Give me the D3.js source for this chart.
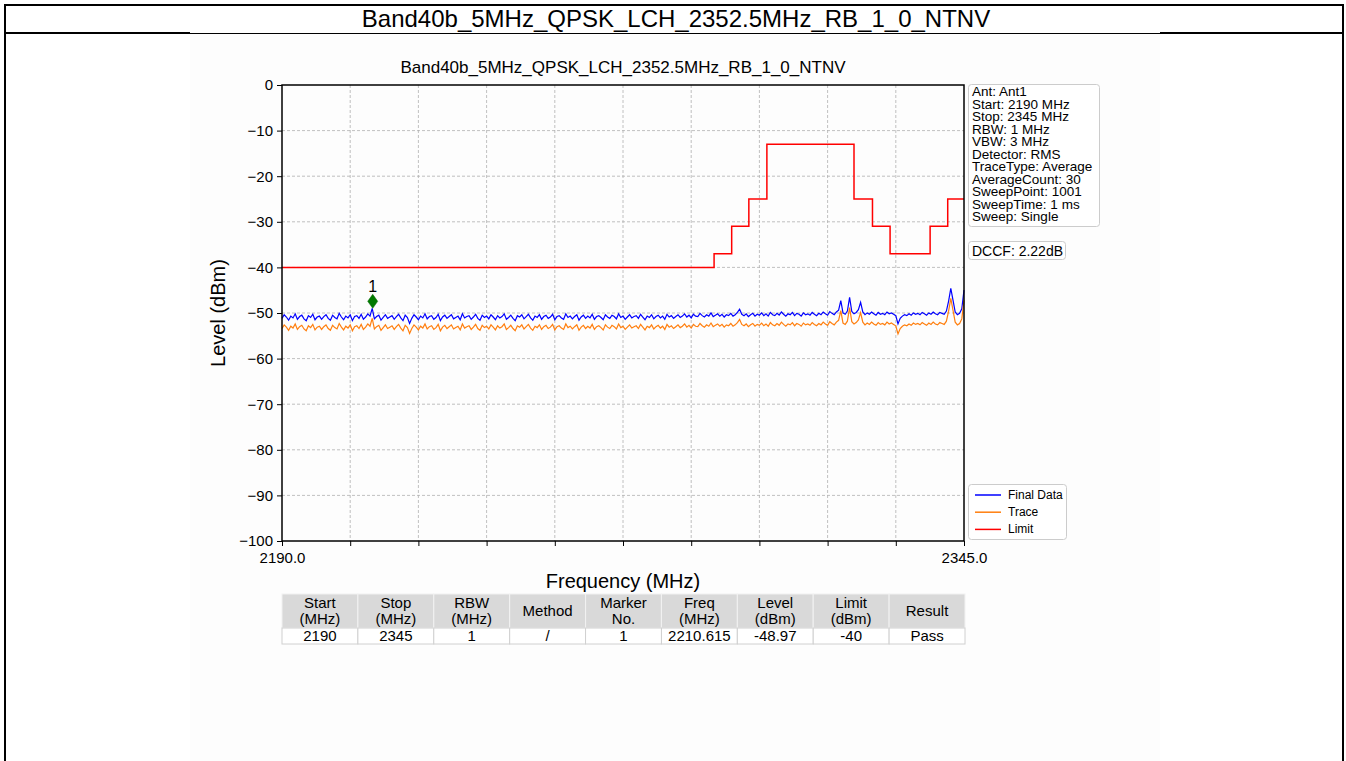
<!DOCTYPE html>
<html>
<head>
<meta charset="utf-8">
<script src="https://cdn.jsdelivr.net/npm/d3@7"></script>
<style>
  html, body { margin: 0; padding: 0; background: #fff; }
  svg { display: block; font-family: "Liberation Sans", Arial, sans-serif; }
</style>
</head>
<body>
<svg id="chart" width="1346" height="761"></svg>
<script>
// ---- data ----
const reportTitle = "Band40b_5MHz_QPSK_LCH_2352.5MHz_RB_1_0_NTNV";
const freqStart = 2190, freqStop = 2345, freqStep = 0.5;
const dccf = 2.22; // duty-cycle correction added to the raw trace

// Raw analyzer trace (dBm), one value every 0.5 MHz from 2190 to 2345 MHz
const traceLevels = [
  -53.4,-52.6,-53.1,-53.8,-52.9,-53.3,-52.4,-53.6,-53.0,-52.7,
  -53.5,-53.9,-52.8,-53.2,-52.5,-53.7,-53.1,-52.9,-53.6,-53.0,
  -52.6,-53.4,-53.8,-52.7,-53.2,-53.5,-52.3,-53.1,-53.7,-52.9,
  -53.3,-52.6,-53.9,-53.0,-52.8,-53.4,-52.5,-53.6,-53.1,-52.4,
  -52.9,-51.19,-53.5,-53.0,-52.7,-53.8,-53.2,-52.6,-53.4,-53.1,
  -52.8,-53.6,-53.0,-52.5,-53.3,-53.9,-52.7,-53.2,-54.5,-53.4,
  -52.6,-53.1,-53.7,-52.9,-53.3,-52.4,-53.5,-53.0,-52.8,-53.6,
  -53.2,-52.5,-53.9,-53.1,-52.7,-53.4,-53.0,-52.6,-53.5,-53.2,
  -52.9,-53.7,-52.4,-53.3,-53.0,-52.8,-53.6,-53.1,-52.5,-53.4,
  -53.8,-52.7,-53.2,-52.9,-53.5,-52.6,-53.1,-53.7,-52.8,-53.3,
  -53.0,-52.4,-53.6,-53.2,-52.7,-53.4,-53.9,-52.8,-53.1,-52.6,
  -53.5,-53.0,-52.5,-53.3,-53.8,-52.9,-53.2,-52.6,-53.6,-53.0,
  -52.7,-53.4,-53.1,-52.5,-53.7,-53.0,-52.8,-53.3,-53.6,-52.4,
  -53.2,-52.9,-53.5,-53.0,-52.6,-53.8,-53.1,-52.7,-53.4,-52.9,
  -53.3,-52.5,-53.6,-53.0,-52.8,-53.2,-53.7,-52.6,-53.1,-53.4,
  -52.7,-53.0,-53.5,-52.4,-53.2,-52.9,-53.6,-53.1,-52.6,-53.3,
  -53.0,-52.8,-53.4,-52.5,-53.1,-53.7,-52.9,-53.2,-52.6,-53.5,
  -53.0,-52.7,-53.3,-52.9,-53.6,-52.5,-53.1,-52.8,-53.4,-53.0,
  -52.6,-53.2,-52.9,-52.4,-53.1,-52.7,-53.3,-52.5,-52.9,-53.0,
  -52.3,-52.8,-53.1,-52.6,-52.9,-52.2,-53.0,-52.7,-52.4,-52.9,
  -52.5,-53.1,-52.6,-52.8,-52.3,-52.9,-52.6,-52.1,-51.4,-52.5,
  -52.8,-52.4,-53.0,-52.6,-52.3,-52.9,-52.5,-52.7,-52.2,-52.8,
  -52.4,-52.9,-52.1,-52.6,-52.8,-52.3,-52.7,-52.0,-52.5,-52.9,
  -52.4,-52.6,-52.1,-52.8,-52.3,-52.5,-52.9,-52.2,-52.6,-52.4,
  -52.7,-52.1,-52.5,-52.8,-52.3,-52.6,-52.0,-52.4,-52.7,-51.9,
  -52.3,-52.6,-52.0,-51.6,-49.5,-52.2,-52.5,-51.8,-48.8,-51.9,
  -52.4,-52.1,-51.5,-49.9,-52.0,-52.6,-52.2,-52.5,-52.0,-52.4,
  -52.7,-52.1,-52.5,-52.3,-52.6,-52.0,-52.4,-52.2,-52.5,-52.8,
  -54.6,-53.4,-52.9,-52.6,-52.8,-52.4,-52.7,-52.2,-52.5,-52.3,
  -52.6,-52.1,-52.4,-52.7,-52.2,-52.5,-52.0,-52.4,-52.6,-52.1,
  -52.3,-52.5,-51.8,-49.6,-46.8,-49.4,-52.0,-52.6,-52.3,-51.3,
  -47.2
];

// Limit mask: band edges (MHz) and the level (dBm) that applies from each edge on
const limitEdges  = [2190, 2288.2, 2292.2, 2296.1, 2300.2, 2320.0, 2324.2, 2328.2, 2337.3, 2341.3, 2345];
const limitLevels = [-40, -37, -31, -25, -13, -25, -31, -37, -31, -25];

const yTicks = [0, -10, -20, -30, -40, -50, -60, -70, -80, -90, -100];
const xTickLabels = ["2190.0", "2345.0"];

const markerFreq = 2210.615, markerLevel = -48.97, markerNo = "1";

const setupLines = [
  "Ant: Ant1", "Start: 2190 MHz", "Stop: 2345 MHz", "RBW: 1 MHz", "VBW: 3 MHz",
  "Detector: RMS", "TraceType: Average", "AverageCount: 30", "SweepPoint: 1001",
  "SweepTime: 1 ms", "Sweep: Single"
];
const dccfLabel = "DCCF: 2.22dB";

const legendNames  = ["Final Data", "Trace", "Limit"];
const legendColors = ["#0000ff", "#ff7f0e", "#ff0000"];

const tableHeader = [["Start","(MHz)"],["Stop","(MHz)"],["RBW","(MHz)"],["Method"],["Marker","No."],["Freq","(MHz)"],["Level","(dBm)"],["Limit","(dBm)"],["Result"]];
const tableRow = ["2190","2345","1","/","1","2210.615","-48.97","-40","Pass"];

// ---- derived series ----
const traceFreqs = traceLevels.map((_, i) => freqStart + i * freqStep);
const traceSeries = traceLevels.map((v, i) => ({ f: traceFreqs[i], v }));
const finalSeries = traceLevels.map((v, i) => ({ f: traceFreqs[i], v: v + dccf }));
const limitSeries = limitLevels.map((v, i) => ({ f: limitEdges[i], v }))
  .concat([{ f: limitEdges[limitEdges.length - 1], v: limitLevels[limitLevels.length - 1] }]);

// ---- page frame ----
const svg = d3.select("#chart");
svg.append("rect").attr("x", 190).attr("y", 34).attr("width", 970).attr("height", 727).attr("fill", "#fdfdfd");
svg.append("line").attr("x1", 5).attr("x2", 1343).attr("y1", 5).attr("y2", 5).attr("stroke", "#000").attr("stroke-width", 2);
svg.append("line").attr("x1", 5).attr("x2", 190).attr("y1", 33).attr("y2", 33).attr("stroke", "#000").attr("stroke-width", 2);
svg.append("line").attr("x1", 1160).attr("x2", 1343).attr("y1", 33).attr("y2", 33).attr("stroke", "#000").attr("stroke-width", 2);
svg.append("line").attr("x1", 190).attr("x2", 1160).attr("y1", 33.5).attr("y2", 33.5).attr("stroke", "#000").attr("stroke-width", 1);
svg.append("line").attr("x1", 5).attr("x2", 5).attr("y1", 4).attr("y2", 761).attr("stroke", "#000").attr("stroke-width", 2);
svg.append("line").attr("x1", 1343).attr("x2", 1343).attr("y1", 4).attr("y2", 761).attr("stroke", "#000").attr("stroke-width", 2);
svg.append("text").attr("x", 676).attr("y", 27).attr("text-anchor", "middle")
  .attr("font-size", 24).attr("fill", "#000").text(reportTitle);

// ---- plot ----
const plot = { left: 282, right: 964, top: 85, bottom: 541 };
const x = d3.scaleLinear().domain([freqStart, freqStop]).range([plot.left, plot.right]);
const y = d3.scaleLinear().domain([-100, 0]).range([plot.bottom, plot.top]);
const xMinorTicks = d3.range(0, 11).map(i => freqStart + i * (freqStop - freqStart) / 10);

const g = svg.append("g");

// grid
g.append("g").selectAll("line").data(xMinorTicks.slice(1, -1)).join("line")
  .attr("x1", d => x(d)).attr("x2", d => x(d)).attr("y1", plot.top).attr("y2", plot.bottom)
  .attr("stroke", "#b0b0b0").attr("stroke-width", 0.8).attr("stroke-dasharray", "3,2");
g.append("g").selectAll("line").data(yTicks.slice(1, -1)).join("line")
  .attr("x1", plot.left).attr("x2", plot.right).attr("y1", d => y(d)).attr("y2", d => y(d))
  .attr("stroke", "#b0b0b0").attr("stroke-width", 0.8).attr("stroke-dasharray", "3,2");

// axes
const yAxis = d3.axisLeft(y).tickValues(yTicks).tickSize(5).tickPadding(4)
  .tickFormat(d => d < 0 ? "\u2212" + Math.abs(d) : String(d));
const yg = g.append("g").attr("transform", `translate(${plot.left},0)`).call(yAxis);
yg.select(".domain").remove();
yg.selectAll("text").attr("font-size", 15).attr("fill", "#000").style("font-family", "Liberation Sans, Arial, sans-serif");

const xAxis = d3.axisBottom(x).tickValues(xMinorTicks).tickSize(5).tickPadding(6)
  .tickFormat((d, i) => i === 0 ? xTickLabels[0] : (i === xMinorTicks.length - 1 ? xTickLabels[1] : ""));
const xg = g.append("g").attr("transform", `translate(0,${plot.bottom})`).call(xAxis);
xg.select(".domain").remove();
xg.selectAll("text").attr("font-size", 15).attr("fill", "#000").style("font-family", "Liberation Sans, Arial, sans-serif");

// series
const line = d3.line().x(d => x(d.f)).y(d => y(d.v));
g.append("path").datum(finalSeries).attr("d", line).attr("fill", "none")
  .attr("stroke", legendColors[0]).attr("stroke-width", 1.2);
g.append("path").datum(traceSeries).attr("d", line).attr("fill", "none")
  .attr("stroke", legendColors[1]).attr("stroke-width", 1.2);
g.append("path").datum(limitSeries).attr("d", line.curve(d3.curveStepAfter)).attr("fill", "none")
  .attr("stroke", legendColors[2]).attr("stroke-width", 1.5);

// frame
g.append("rect").attr("x", plot.left).attr("y", plot.top)
  .attr("width", plot.right - plot.left).attr("height", plot.bottom - plot.top)
  .attr("fill", "none").attr("stroke", "#000").attr("stroke-width", 1.5);

// marker
const mx = x(markerFreq), my = y(markerLevel);
g.append("path").attr("d", `M${mx},${my} L${mx + 5},${my - 7} L${mx},${my - 14} L${mx - 5},${my - 7} Z`)
  .attr("fill", "#007a00").attr("stroke", "#006400").attr("stroke-width", 0.5);
g.append("text").attr("x", mx).attr("y", my - 16).attr("text-anchor", "middle")
  .attr("font-size", 16).attr("fill", "#000").text(markerNo);

// titles
g.append("text").attr("x", (plot.left + plot.right) / 2).attr("y", 73).attr("text-anchor", "middle")
  .attr("font-size", 17).attr("fill", "#000").text(reportTitle);
g.append("text").attr("x", (plot.left + plot.right) / 2).attr("y", 588).attr("text-anchor", "middle")
  .attr("font-size", 20).attr("fill", "#000").text("Frequency (MHz)");
g.append("text").attr("transform", `translate(225,${(plot.top + plot.bottom) / 2}) rotate(-90)`)
  .attr("text-anchor", "middle").attr("font-size", 20).attr("fill", "#000").text("Level (dBm)");

// measurement setup box (tightly spaced lines, slightly widened glyphs)
const info = svg.append("g");
info.append("rect").attr("x", 968.5).attr("y", 84.5).attr("width", 131).attr("height", 142).attr("rx", 3)
  .attr("fill", "#fff").attr("stroke", "#cccccc").attr("stroke-width", 1);
info.selectAll("text").data(setupLines).join("text")
  .attr("transform", (d, i) => `translate(972,${96 + i * 12.5}) scale(1.09,1)`)
  .attr("font-size", 12.4).attr("fill", "#000").text(d => d);

const dbox = svg.append("g");
dbox.append("rect").attr("x", 968.5).attr("y", 241.5).attr("width", 97).attr("height", 18).attr("rx", 3)
  .attr("fill", "#fff").attr("stroke", "#cccccc").attr("stroke-width", 1);
dbox.append("text").attr("x", 972).attr("y", 255.5).attr("font-size", 14).attr("fill", "#000").text(dccfLabel);

// legend
const leg = svg.append("g");
leg.append("rect").attr("x", 968.5).attr("y", 484.5).attr("width", 98).attr("height", 55).attr("rx", 3)
  .attr("fill", "#fff").attr("stroke", "#cccccc").attr("stroke-width", 1);
legendNames.forEach((name, i) => {
  const ly = 495 + i * 17.2;
  leg.append("line").attr("x1", 975).attr("x2", 1001).attr("y1", ly).attr("y2", ly)
    .attr("stroke", legendColors[i]).attr("stroke-width", 1.5);
  leg.append("text").attr("x", 1008).attr("y", ly + 4).attr("font-size", 12).attr("fill", "#000").text(name);
});

// result table
const tbl = svg.append("g");
const colX = d3.scaleLinear().domain([0, tableHeader.length]).range([282, 965]);
const cw = colX(1) - colX(0);
tableHeader.forEach((h, i) => {
  tbl.append("rect").attr("x", colX(i)).attr("y", 594).attr("width", cw).attr("height", 34)
    .attr("fill", "#d9d9d9").attr("stroke", "#f2f2f2").attr("stroke-width", 1);
  tbl.append("rect").attr("x", colX(i)).attr("y", 628).attr("width", cw).attr("height", 16)
    .attr("fill", "#fff").attr("stroke", "#d0d0d0").attr("stroke-width", 1);
  const cx = colX(i) + cw / 2;
  const lines = h.length === 2 ? [[h[0], 607.5], [h[1], 623.5]] : [[h[0], 615.5]];
  lines.forEach(([t, ty]) => {
    tbl.append("text").attr("x", cx).attr("y", ty)
      .attr("text-anchor", "middle").attr("font-size", 15).attr("fill", "#000").text(t);
  });
  tbl.append("text").attr("x", cx).attr("y", 640.5)
    .attr("text-anchor", "middle").attr("font-size", 15).attr("fill", "#000").text(tableRow[i]);
});
</script>
</body>
</html>
